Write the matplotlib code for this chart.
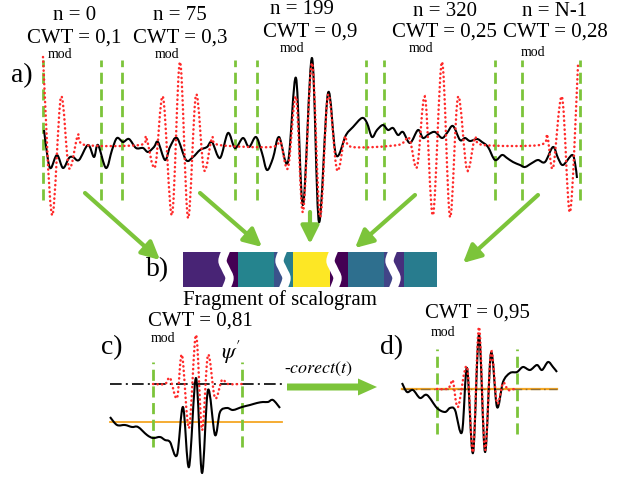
import numpy as np
import matplotlib
matplotlib.use('Agg')
import matplotlib.pyplot as plt
from matplotlib.path import Path
from matplotlib.patches import PathPatch, FancyArrowPatch
from matplotlib import colors as mcolors

plt.rcParams['font.family'] = ['Liberation Serif', 'DejaVu Serif']
plt.rcParams['mathtext.fontset'] = 'stix'

# ---------------- data ----------------
n_labels = ['n = 0', 'n = 75', 'n = 199', 'n = 320', 'n = N-1']
cwt_labels = ['CWT = 0,1', 'CWT = 0,3', 'CWT = 0,9', 'CWT = 0,25', 'CWT = 0,28']

# panel a: analysed signal (black) and wavelets (red dotted)
sig_a_t = [4, 8, 11, 17, 23, 29, 33, 39, 48, 54, 58, 66, 72, 77, 83, 89, 96, 103, 108, 114,
           118, 125, 130, 137, 146, 153, 160, 167, 172, 180, 188, 195, 203, 209, 216, 222,
           227, 233, 239, 248, 256, 263, 272, 279, 288, 296, 306, 313, 322, 327, 332, 337,
           343, 348, 353, 358, 363, 370, 378, 383, 389, 395, 402, 407, 413, 420, 425, 430,
           437, 442, 448, 455, 462, 467, 473, 480, 485, 492, 498, 505, 513, 518, 523, 532,
           535, 537]
sig_a_v = [15, -15, -23, -10, -23, -13, -12, -15, 0, -12, 0, -23, -5, 7, 3, 6, -3, -3, -7, -2,
           3, -15, -2, 7, -15, -12, -5, -2, 3, -13, 12, -3, 7, -2, 8, -8,
           -25, -13, 8, -17, 67, -60, 87, -77, 52, -10, 10, 18, 27, 22, 8, 15,
           20, 15, 17, 10, 13, 2, 15, 7, 11, 13, 7, 12, 19, 5, 7, 4,
           6, 3, -2, -15, -10, -13, -17, -20, -22, -18, -15, -17, -2, -13, -20, -10,
           -18, -33]
wav_a_t = [3, 12, 21, 29, 38, 45, 100, 106, 115, 123, 132, 140, 148, 156, 164, 172, 179,
           232, 240, 248, 256, 263, 272, 280, 288, 297, 305, 312, 358, 369, 377, 385, 393,
           402, 410, 418, 427, 435, 443, 500, 507, 513, 522, 530, 538]
wav_a_v = [88, -70, 48, -23, 10, 0, 0, 8, -22, 48, -70, 83, -73, 50, -25, 7, 0,
           -2, 5, -23, 48, -67, 82, -72, 50, -25, 8, -2, 0, 7, -22, 48, -70,
           83, -72, 48, -25, 7, 0, 0, 10, -23, 48, -67, 80]
win_a = [3, 61, 82, 195, 217, 326, 344, 455, 482, 540]

# panel b: fragment of scalogram (CWT_mod values of cells)
cell_values = [0.10, 0.0, 0.30, 0.186, 0.283, 0.90, 0.0, 0.25, 0.157, 0.117, 0.28]

# panel c: fragment before correction
sig_c_t = [5, 12, 20, 27, 33, 42, 48, 55, 60, 65, 72, 78, 84, 91, 97, 103, 110, 115, 122,
           128, 137, 145, 152, 158, 163, 168, 175]
sig_c_v = [-33, -41, -41, -43, -43, -51, -54, -53, -56, -58, -71, -23, -83, 6, -89, -6, -51,
           -28, -24, -26, -23, -21, -19, -18, -18, -16, -24]
wav_c_t = [48, 60, 65, 72, 77, 84, 91, 97, 103, 110, 117, 123, 137]
wav_c_v = [0, 0, 6, -14, 29, -44, 49, -46, 29, -14, 4, 0, 0]
mean_c = -38
win_c = [48, 137]

# panel d: fragment after correction
sig_d_t = [4, 9, 15, 22, 29, 39, 47, 52, 57, 64, 69, 75, 81, 87, 93, 99, 105, 112, 119, 125,
           132, 139, 144, 150, 155, 159]
sig_d_v = [6, -3, -1, -9, -6, -19, -23, -19, -21, -43, 21, -64, 54, -63, 36, -18, 7, 16, 17,
           22, 19, 24, 19, 27, 22, 17]
wav_d_t = [39, 49, 52, 55, 60, 69, 75, 81, 87, 93, 99, 105, 110, 116]
wav_d_v = [0, 0, 3, 8, -18, 22, -63, 62, -61, 37, -14, 6, -1, 0]
win_d = [39, 119]

# ---------------- style ----------------
W, H = 619, 480
GREEN = '#7cc43a'
RED = '#ff2a2a'
ORANGE = '#f5a623'

fig = plt.figure(figsize=(W / 100, H / 100), dpi=100)


def px_axes(x0, y0, x1, y1, xlim, ylim):
    ax = fig.add_axes([x0 / W, 1 - y1 / H, (x1 - x0) / W, (y1 - y0) / H])
    ax.set_xlim(*xlim)
    ax.set_ylim(*ylim)
    ax.axis('off')
    ax.patch.set_alpha(0)
    return ax


def smooth_path(x, y):
    pts = np.column_stack([x, y]).astype(float)
    verts = [pts[0]]
    codes = [Path.MOVETO]
    n = len(pts)
    for i in range(n - 1):
        p0 = pts[i - 1] if i > 0 else pts[i]
        p1, p2 = pts[i], pts[i + 1]
        p3 = pts[i + 2] if i + 2 < n else pts[i + 1]
        verts += [p1 + (p2 - p0) / 6, p2 - (p3 - p1) / 6, p2]
        codes += [Path.CURVE4] * 3
    return Path(verts, codes)


def draw_signal(ax, t, v):
    ax.add_patch(PathPatch(smooth_path(t, v), fill=False, ec='black', lw=1.5,
                           joinstyle='round', zorder=3))


def draw_wavelet(ax, t, v):
    ax.add_patch(PathPatch(smooth_path(t, v), fill=False, ec=RED, lw=1.8,
                           ls=(0, (0.1, 1.7)), capstyle='round', zorder=4))


def draw_windows(ax, xs, y0, y1):
    ax.vlines(xs, y0, y1, colors=GREEN, lw=2.0, linestyles=[(0, (4, 2))], zorder=2)


# overlay for annotations
ov = fig.add_axes([0, 0, 1, 1])
ov.set_xlim(0, W)
ov.set_ylim(H, 0)
ov.axis('off')

# ---- panel a ----
axa = px_axes(40, 50, 585, 235, (0, 545), (-90, 95))
draw_windows(axa, win_a, -55, 85)
draw_wavelet(axa, wav_a_t, wav_a_v)
draw_signal(axa, sig_a_t, sig_a_v)

n_pos = [(75, 16), (180, 16), (302, 10), (445, 11), (555, 12)]
c_pos = [(74, 38), (180, 38), (310, 32), (444, 32), (555, 32)]
m_pos = [(60, 55), (167, 55), (292, 49), (421, 48), (533, 52)]
for lab, p in zip(n_labels, n_pos):
    ov.text(p[0], p[1], lab, fontsize=15, ha='center', va='center')
for lab, p in zip(cwt_labels, c_pos):
    ov.text(p[0], p[1], lab, fontsize=15, ha='center', va='center')
for p in m_pos:
    ov.text(p[0], p[1], 'mod', fontsize=10, ha='center', va='center')
ov.text(22, 76, 'a)', fontsize=20, ha='center', va='center')

# arrows a -> b
for (x0, y0), (x1, y1) in [((85, 193), (160, 260)), ((200, 193), (262, 247)),
                           ((310, 212), (310, 244)), ((415, 195), (355, 248)),
                           ((538, 195), (463, 263))]:
    ov.add_patch(FancyArrowPatch((x0, y0), (x1, y1),
                                 arrowstyle='-|>,head_length=0.9,head_width=0.45',
                                 mutation_scale=12, lw=3, color=GREEN,
                                 shrinkA=0, shrinkB=0))

# ---- panel b: scalogram strip ----
edges = [0, 43, 55, 91, 100, 110, 147, 165, 201, 210, 221, 254]
axb = px_axes(183, 252, 437, 287, (0, 254), (0, 1))
norm = mcolors.Normalize(vmin=0.043, vmax=0.614, clip=True)
axb.pcolormesh(edges, [0, 1], np.array([cell_values]), cmap='viridis', norm=norm)
for gx in [43, 100, 151, 210]:
    s_y = [-0.05, 0.25, 0.5, 0.75, 1.05]
    s_x = [gx, gx + 3.5, gx, gx - 3.5, gx]
    axb.add_patch(PathPatch(smooth_path(s_x, s_y), fill=False, ec='white', lw=6,
                            clip_on=False, zorder=5))
ov.text(158, 270, 'b)', fontsize=20, ha='center', va='center')
ov.text(280, 300, 'Fragment of scalogram', fontsize=15, ha='center', va='center')

# ---- panel c ----
axc = px_axes(105, 315, 285, 480, (0, 180), (-96, 69))
axc.plot([5, 177], [0, 0], color='black', lw=1.2, ls=(0, (7, 2.5, 1.2, 2.5)), zorder=1)
axc.plot([5, 177], [mean_c, mean_c], color=ORANGE, lw=1.3, zorder=1)
draw_windows(axc, win_c, -63, 22)
draw_wavelet(axc, wav_c_t, wav_c_v)
draw_signal(axc, sig_c_t, sig_c_v)
ov.text(112, 348, 'c)', fontsize=20, ha='center', va='center')
ov.text(200, 321, 'CWT = 0,81', fontsize=15, ha='center', va='center')
ov.text(163, 339, 'mod', fontsize=10, ha='center', va='center')
ov.text(231, 352, r"$\psi'$", fontsize=16, ha='center', va='center')

# arrow c -> d
ov.arrow(287, 387, 90, 0, width=7, head_width=17, head_length=19,
         length_includes_head=True, color=GREEN, lw=0)
ov.text(284, 369, r'-$corect(t)$', fontsize=13, ha='left', va='center')

# ---- panel d ----
axd = px_axes(398, 310, 562, 470, (0, 164), (-81, 79))
axd.plot([4, 159], [0, 0], color=ORANGE, lw=1.6, zorder=1)
axd.plot([4, 159], [0, 0], color='#6b5a3a', lw=1.0, ls=(0, (7, 2.5, 1.2, 2.5)),
         alpha=0.7, zorder=1)
draw_windows(axd, win_d, -45, 40)
draw_wavelet(axd, wav_d_t, wav_d_v)
draw_signal(axd, sig_d_t, sig_d_v)
ov.text(392, 348, 'd)', fontsize=20, ha='center', va='center')
ov.text(477, 313, 'CWT = 0,95', fontsize=15, ha='center', va='center')
ov.text(443, 332, 'mod', fontsize=10, ha='center', va='center')

fig.savefig('out.png', dpi=100)
